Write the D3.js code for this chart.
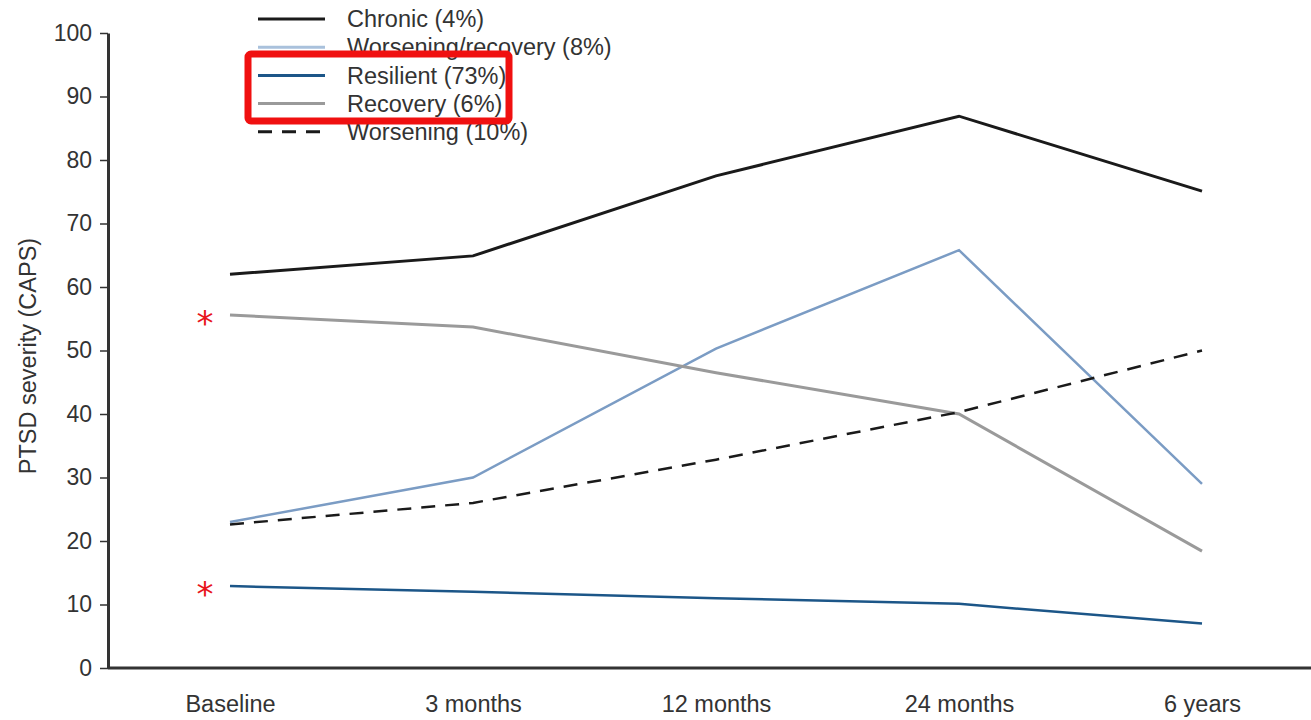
<!DOCTYPE html>
<html>
<head>
<meta charset="utf-8">
<script src="https://cdn.jsdelivr.net/npm/d3@7"></script>
<style>
  body { margin: 0; background: #fff; }
  svg { display: block; }
</style>
</head>
<body>
<svg id="chart"></svg>
<script>
// Data
const timepoints = ["Baseline", "3 months", "12 months", "24 months", "6 years"];
const yTicks = [0, 10, 20, 30, 40, 50, 60, 70, 80, 90, 100];
const seriesNames = ["Chronic (4%)", "Worsening/recovery (8%)", "Resilient (73%)", "Recovery (6%)", "Worsening (10%)"];
const chronic = [62, 64.9, 77.5, 86.9, 75.1];
const worseningRecovery = [23, 30, 50.3, 65.8, 29];
const resilient = [12.9, 12, 11, 10.1, 7];
const recovery = [55.6, 53.7, 46.5, 40, 18.4];
const worsening = [22.6, 26, 32.8, 40.3, 50];
const starred = [55.6, 12.9]; // values flagged with a red asterisk at baseline

const width = 1311, height = 720;
const margin = { top: 33, right: 0, bottom: 52, left: 108 };
const innerW = width - margin.left - margin.right;
const innerH = height - margin.top - margin.bottom;

const svg = d3.select('#chart')
  .attr('width', width)
  .attr('height', height);

const g = svg.append('g')
  .attr('transform', `translate(${margin.left},${margin.top})`);

const xScale = d3.scalePoint()
  .domain(timepoints)
  .range([122, 1094]);

const yScale = d3.scaleLinear()
  .domain([0, 100])
  .range([innerH, 0]);

const styles = [
  { data: chronic, color: '#1a1a1a', width: 3, dash: null },
  { data: worseningRecovery, color: '#7b9cc4', width: 2.5, dash: null },
  { data: resilient, color: '#1c5688', width: 2.5, dash: null },
  { data: recovery, color: '#9a9a9a', width: 3, dash: null },
  { data: worsening, color: '#1a1a1a', width: 2.5, dash: '14,10' }
];

const line = d3.line()
  .x((d, i) => xScale(timepoints[i]))
  .y(d => yScale(d));

// Y axis
const yAxis = g.append('g')
  .call(d3.axisLeft(yScale).tickValues(yTicks).tickSize(8).tickSizeOuter(0).tickPadding(8));
yAxis.select('.domain').attr('stroke', '#333').attr('stroke-width', 3);
yAxis.selectAll('.tick line').attr('stroke', '#333').attr('stroke-width', 1.5);
yAxis.selectAll('.tick text')
  .style('font-family', 'Liberation Sans, Arial, sans-serif')
  .style('font-size', '23px')
  .attr('fill', '#333');

// X axis
const xAxis = g.append('g')
  .attr('transform', `translate(0,${innerH})`)
  .call(d3.axisBottom(xScale).tickSize(0).tickPadding(27));
xAxis.select('.domain').attr('d', `M0,0H${innerW}`).attr('stroke', '#333').attr('stroke-width', 3);
xAxis.selectAll('.tick text')
  .style('font-family', 'Liberation Sans, Arial, sans-serif')
  .style('font-size', '23.5px')
  .attr('fill', '#333');

// Y axis title
svg.append('text')
  .attr('transform', `translate(36,356) rotate(-90)`)
  .attr('text-anchor', 'middle')
  .style('font-family', 'Liberation Sans, Arial, sans-serif')
  .style('font-size', '23.5px')
  .attr('fill', '#333')
  .text('PTSD severity (CAPS)');

// Lines
styles.forEach(s => {
  g.append('path')
    .datum(s.data)
    .attr('fill', 'none')
    .attr('stroke', s.color)
    .attr('stroke-width', s.width)
    .attr('stroke-dasharray', s.dash)
    .attr('d', line);
});

// Red asterisks
g.selectAll('.star')
  .data(starred)
  .enter()
  .append('text')
  .attr('x', xScale(timepoints[0]) - 25)
  .attr('y', d => yScale(d) + 20)
  .attr('text-anchor', 'middle')
  .style('font-family', 'DejaVu Sans, sans-serif')
  .style('font-size', '34px')
  .attr('fill', '#e8141b')
  .text('*');

// Legend
const legend = svg.append('g').attr('transform', 'translate(258,19)');
seriesNames.forEach((name, i) => {
  const s = styles[i];
  legend.append('line')
    .attr('x1', 0).attr('x2', 67)
    .attr('y1', i * 28.2).attr('y2', i * 28.2)
    .attr('stroke', i === 1 ? '#a9c1dc' : s.color)
    .attr('stroke-width', 3)
    .attr('stroke-dasharray', s.dash);
  legend.append('text')
    .attr('x', 89)
    .attr('y', i * 28.2)
    .attr('dy', '0.35em')
    .style('font-family', 'Liberation Sans, Arial, sans-serif')
    .style('font-size', '23.5px')
    .attr('fill', '#333')
    .text(name);
});

// Red highlight box round two legend entries
svg.append('rect')
  .attr('x', 248).attr('y', 54)
  .attr('width', 261).attr('height', 67)
  .attr('rx', 3)
  .attr('fill', 'none')
  .attr('stroke', '#f01010')
  .attr('stroke-width', 7);
</script>
</body>
</html>
